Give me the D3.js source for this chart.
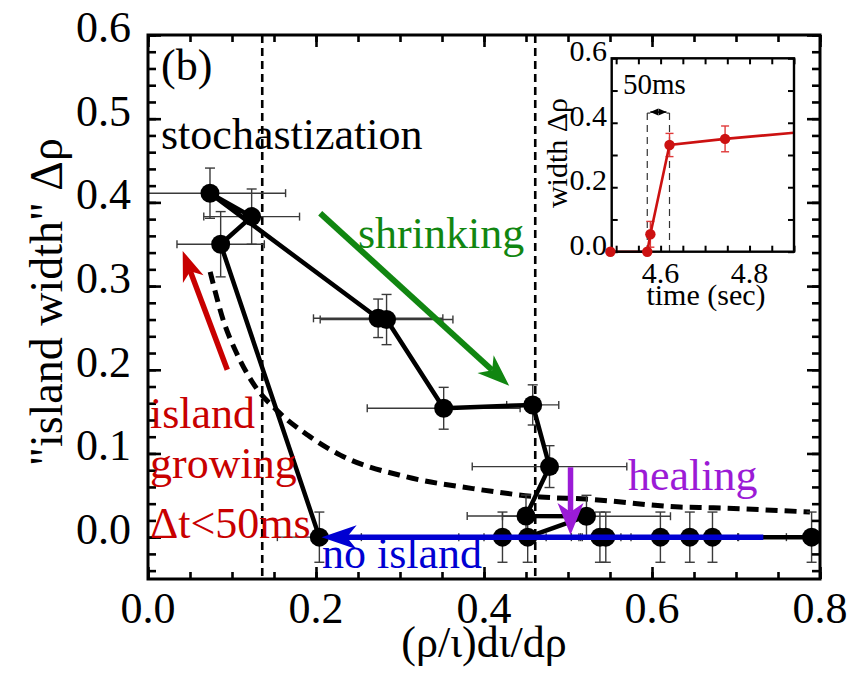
<!DOCTYPE html>
<html>
<head>
<meta charset="utf-8">
<script src="https://cdn.jsdelivr.net/npm/d3@7"></script>
<style>
html,body{margin:0;padding:0;background:#fff;}
svg{display:block;}
</style>
</head>
<body>
<svg id="chart" width="862" height="677" font-family="'Liberation Serif', 'DejaVu Serif', serif"></svg>
<script>
// ---------------- data ----------------
// main series, in path order
const mainX    = [0.204, 0.0865, 0.1234, 0.0738, 0.274, 0.284, 0.352, 0.458, 0.478, 0.450, 0.522, 0.452, 0.422, 0.538, 0.545, 0.610, 0.645, 0.672, 0.790];
const mainY    = [0.000, 0.350, 0.383, 0.411, 0.2615, 0.260, 0.154, 0.158, 0.0843, 0.0253, 0.025, 0.000, 0.000, 0.000, 0.000, 0.000, 0.000, 0.000, 0.000];
const mainXErr = [0.050, 0.052, 0.057, 0.090, 0.077, 0.079, 0.091, 0.031, 0.092, 0.070, 0.100, 0.052, 0.052, 0.025, 0.030, 0.093, 0.030, 0.030, 0.030];
const mainYErr = [0.030, 0.039, 0.033, 0.030, 0.023, 0.030, 0.025, 0.024, 0.025, 0.025, 0.025, 0.030, 0.030, 0.030, 0.030, 0.030, 0.030, 0.030, 0.030];

// dashed threshold curve (read points)
const curveX = [0.074, 0.090, 0.105, 0.125, 0.155, 0.190, 0.229, 0.308, 0.387, 0.467, 0.522, 0.633, 0.673, 0.788];
const curveY = [0.317, 0.258, 0.221, 0.184, 0.150, 0.122, 0.098, 0.072, 0.058, 0.048, 0.0455, 0.036, 0.035, 0.030];

// vertical dashed lines
const vLines = [0.136, 0.461];

// tick labels
const xTickLabels = ["0.0", "0.2", "0.4", "0.6", "0.8"];
const xTickValues = [0.0, 0.2, 0.4, 0.6, 0.8];
const yTickLabels = ["0.0", "0.1", "0.2", "0.3", "0.4", "0.5", "0.6"];
const yTickValues = [0.0, 0.1, 0.2, 0.3, 0.4, 0.5, 0.6];

// inset series
const insetT   = [4.487, 4.570, 4.577, 4.620, 4.745, 4.900];
const insetW   = [0.000, 0.000, 0.054, 0.331, 0.350, 0.369];
const insetErr = [0.000, 0.000, 0.040, 0.036, 0.040, 0.000];
const insetMarks = [true, true, true, true, true, false];
const insetXLabels = ["4.6", "4.8"];
const insetXValues = [4.6, 4.8];
const insetYLabels = ["0.0", "0.2", "0.4", "0.6"];
const insetYValues = [0.0, 0.2, 0.4, 0.6];
const window50 = [4.570, 4.620];   // 50 ms window
const windowTop = 0.43;

// annotation arrows [x1,y1,x2,y2] in data units (tail -> tip)
const arrowRed    = [0.0944, 0.200, 0.0413, 0.342];
const arrowGreen  = [0.205, 0.387, 0.430, 0.181];
const arrowPurple = [0.503, 0.0835, 0.503, 0.0026];
const arrowBlue   = [0.7325, 0.000, 0.2067, 0.000];

// ---------------- drawing ----------------
const svg = d3.select("#chart");
const L = 148, R = 820, T = 35, B = 579;
const x = d3.scaleLinear().domain([0, 0.8]).range([L, R]);
const y = d3.scaleLinear().domain([-0.05, 0.6]).range([B, T]);

svg.append("defs").append("clipPath").attr("id", "mainclip")
  .append("rect").attr("x", L).attr("y", T).attr("width", R - L).attr("height", B - T);

const plot = svg.append("g");
const clipped = plot.append("g").attr("clip-path", "url(#mainclip)");

// vertical dashed lines
clipped.selectAll(".vline").data(vLines).enter().append("line")
  .attr("x1", d => x(d)).attr("x2", d => x(d)).attr("y1", T).attr("y2", B)
  .attr("stroke", "#000").attr("stroke-width", 2.6).attr("stroke-dasharray", "8,5");

// dashed curve
const curvePts = curveX.map((v, i) => [v, curveY[i]]);
clipped.append("path")
  .attr("d", d3.line().x(d => x(d[0])).y(d => y(d[1])).curve(d3.curveMonotoneX)(curvePts))
  .attr("fill", "none").attr("stroke", "#000").attr("stroke-width", 5)
  .attr("stroke-dasharray", "12,7");

// error bars
const pts = mainX.map((v, i) => ({x: v, y: mainY[i], xe: mainXErr[i], ye: mainYErr[i]}));
const eb = clipped.append("g").attr("stroke", "#3a3a3a").attr("stroke-width", 1.4).attr("fill", "none");
pts.forEach(p => {
  const cx = x(p.x), cy = y(p.y);
  const x0 = x(p.x - p.xe), x1 = x(p.x + p.xe);
  const y0 = y(p.y - p.ye), y1 = y(p.y + p.ye);
  eb.append("line").attr("x1", x0).attr("x2", x1).attr("y1", cy).attr("y2", cy);
  eb.append("line").attr("x1", x0).attr("x2", x0).attr("y1", cy - 4).attr("y2", cy + 4);
  eb.append("line").attr("x1", x1).attr("x2", x1).attr("y1", cy - 4).attr("y2", cy + 4);
  eb.append("line").attr("x1", cx).attr("x2", cx).attr("y1", y0).attr("y2", y1);
  eb.append("line").attr("x1", cx - 5).attr("x2", cx + 5).attr("y1", y0).attr("y2", y0);
  eb.append("line").attr("x1", cx - 5).attr("x2", cx + 5).attr("y1", y1).attr("y2", y1);
});

// connecting line
clipped.append("path")
  .attr("d", d3.line().x(d => x(d.x)).y(d => y(d.y))(pts))
  .attr("fill", "none").attr("stroke", "#000").attr("stroke-width", 4.5).attr("stroke-linejoin", "round");

// markers
clipped.selectAll(".pt").data(pts).enter().append("circle")
  .attr("cx", d => x(d.x)).attr("cy", d => y(d.y)).attr("r", 9.5).attr("fill", "#000");

// arrows
function arrow(g, a, sx, sy, color, w, len, half) {
  const x1 = sx(a[0]), y1 = sy(a[1]), x2 = sx(a[2]), y2 = sy(a[3]);
  const ang = Math.atan2(y2 - y1, x2 - x1);
  const ux = Math.cos(ang), uy = Math.sin(ang), nx = -uy, ny = ux;
  const bx = x2 - ux * len, by = y2 - uy * len;
  const kx = x2 - ux * len * 0.72, ky = y2 - uy * len * 0.72;
  g.append("line").attr("x1", x1).attr("y1", y1).attr("x2", kx).attr("y2", ky)
    .attr("stroke", color).attr("stroke-width", w);
  g.append("path")
    .attr("d", `M${x2},${y2}L${bx + nx * half},${by + ny * half}L${kx},${ky}L${bx - nx * half},${by - ny * half}Z`)
    .attr("fill", color);
}
const RED = "#c80000", GREEN = "#118611", PURPLE = "#9b1bd6", BLUE = "#0000d2";
arrow(plot, arrowRed, x, y, RED, 5.5, 30, 11);
arrow(plot, arrowGreen, x, y, GREEN, 6, 32, 12);
arrow(plot, arrowPurple, x, y, PURPLE, 5.5, 32, 13);
arrow(plot, arrowBlue, x, y, BLUE, 5.5, 35, 12);

// frame & ticks
function ticks(axisFn, scale, vals, size, transform) {
  const g = plot.append("g").attr("transform", transform)
    .call(axisFn(scale).tickValues(vals).tickSize(size).tickFormat(""));
  g.select(".domain").remove();
  g.attr("font-family", null);
  g.selectAll(".tick line").attr("stroke", "#000").attr("stroke-width", 2.6);
}
const xMinor = d3.range(0, 0.8001, 0.05).map(v => +v.toFixed(2));
const yMinor = d3.range(-0.04, 0.6001, 0.02).map(v => +v.toFixed(2));
ticks(d3.axisBottom, x, xMinor, -7, `translate(0,${B})`);
ticks(d3.axisBottom, x, xTickValues, -12, `translate(0,${B})`);
ticks(d3.axisTop, x, xMinor, -7, `translate(0,${T})`);
ticks(d3.axisTop, x, xTickValues, -12, `translate(0,${T})`);
ticks(d3.axisLeft, y, yMinor, -8, `translate(${L},0)`);
ticks(d3.axisLeft, y, yTickValues, -13, `translate(${L},0)`);
ticks(d3.axisRight, y, yMinor, -8, `translate(${R},0)`);
ticks(d3.axisRight, y, yTickValues, -13, `translate(${R},0)`);
plot.append("rect").attr("x", L).attr("y", T).attr("width", R - L).attr("height", B - T)
  .attr("fill", "none").attr("stroke", "#000").attr("stroke-width", 3);

// tick labels
plot.selectAll(".xl").data(xTickValues).enter().append("text")
  .attr("x", d => x(d)).attr("y", 623).attr("text-anchor", "middle")
  .attr("font-size", 44).text((d, i) => xTickLabels[i]);
plot.selectAll(".yl").data(yTickValues).enter().append("text")
  .attr("x", 131).attr("y", d => y(d) + 7).attr("text-anchor", "end")
  .attr("font-size", 44).text((d, i) => yTickLabels[i]);

// axis titles
plot.append("text").attr("x", 484).attr("y", 657).attr("text-anchor", "middle")
  .attr("font-size", 44).text("(ρ/ι)dι/dρ");
plot.append("text").attr("transform", "translate(62,302) rotate(-90)").attr("text-anchor", "middle")
  .attr("font-size", 46).text("\"island width\" Δρ");

// annotations
function label(txt, px, py, color, size) {
  plot.append("text").attr("x", px).attr("y", py).attr("fill", color)
    .attr("font-size", size || 44).text(txt);
}
label("(b)", 161, 80, "#000");
label("stochastization", 161, 149, "#000");
label("shrinking", 358, 248, GREEN);
label("island", 150, 428, RED);
label("growing", 150, 478, RED);
label("Δt<50ms", 150, 538, RED);
label("no island", 322, 568, BLUE);
label("healing", 628, 490, PURPLE);

// ---------------- inset ----------------
const IL = 611.7, IR = 794, IT = 58.3, IB = 251.7;
const ix = d3.scaleLinear().domain([4.49, 4.90]).range([IL, IR]);
const iy = d3.scaleLinear().domain([0, 0.6]).range([IB, IT]);
const inset = svg.append("g");
inset.append("rect").attr("x", IL).attr("y", IT).attr("width", IR - IL).attr("height", IB - IT).attr("fill", "#fff");

// 50 ms window
const wg = inset.append("g").attr("stroke", "#333").attr("stroke-width", 1.2);
window50.forEach((t, i) => {
  wg.append("line").attr("x1", ix(t)).attr("x2", ix(t)).attr("y1", iy(windowTop)).attr("y2", IB)
    .attr("stroke-dasharray", "7,5");
  const dx = i === 0 ? 3 : -3;
  wg.append("line").attr("x1", ix(t)).attr("x2", ix(t) + dx).attr("y1", iy(windowTop)).attr("y2", iy(windowTop));
});
{
  const xa = ix(window50[0]) + 3, xb = ix(window50[1]) - 3, yy = iy(windowTop) - 1;
  inset.append("line").attr("x1", xa).attr("x2", xb).attr("y1", yy).attr("y2", yy).attr("stroke", "#000").attr("stroke-width", 1.5);
  inset.append("path").attr("d", `M${xa},${yy}L${xa + 8},${yy - 3.5}L${xa + 8},${yy + 3.5}Z`).attr("fill", "#000");
  inset.append("path").attr("d", `M${xb},${yy}L${xb - 8},${yy - 3.5}L${xb - 8},${yy + 3.5}Z`).attr("fill", "#000");
}

// inset error bars
const ipts = insetT.map((t, i) => ({t, w: insetW[i], e: insetErr[i], m: insetMarks[i]}));
const ieb = inset.append("g").attr("stroke", "#e03a3a").attr("stroke-width", 1.4);
ipts.filter(p => p.e > 0).forEach(p => {
  const cx = ix(p.t);
  ieb.append("line").attr("x1", cx).attr("x2", cx).attr("y1", iy(p.w - p.e)).attr("y2", iy(p.w + p.e));
  ieb.append("line").attr("x1", cx - 4).attr("x2", cx + 4).attr("y1", iy(p.w - p.e)).attr("y2", iy(p.w - p.e));
  ieb.append("line").attr("x1", cx - 4).attr("x2", cx + 4).attr("y1", iy(p.w + p.e)).attr("y2", iy(p.w + p.e));
});
inset.append("path")
  .attr("d", d3.line().x(d => ix(d.t)).y(d => iy(d.w))(ipts))
  .attr("fill", "none").attr("stroke", "#cc1111").attr("stroke-width", 2.6);

// inset ticks & frame
function iticks(axisFn, scale, vals, size, transform) {
  const g = inset.append("g").attr("transform", transform)
    .call(axisFn(scale).tickValues(vals).tickSize(size).tickFormat(""));
  g.select(".domain").remove();
  g.selectAll(".tick line").attr("stroke", "#000").attr("stroke-width", 2);
}
const ixMinor = d3.range(4.5, 4.9001, 0.05).map(v => +v.toFixed(2));
const iyMinor = d3.range(0, 0.6001, 0.1).map(v => +v.toFixed(1));
iticks(d3.axisBottom, ix, ixMinor, -6, `translate(0,${IB})`);
iticks(d3.axisTop, ix, ixMinor, -6, `translate(0,${IT})`);
iticks(d3.axisLeft, iy, iyMinor, -6, `translate(${IL},0)`);
iticks(d3.axisRight, iy, iyMinor, -6, `translate(${IR},0)`);
inset.append("rect").attr("x", IL).attr("y", IT).attr("width", IR - IL).attr("height", IB - IT)
  .attr("fill", "none").attr("stroke", "#000").attr("stroke-width", 2.4);

// inset markers (drawn above frame)
inset.selectAll(".ipt").data(ipts.filter(p => p.m)).enter().append("circle")
  .attr("cx", d => ix(d.t)).attr("cy", d => iy(d.w)).attr("r", 5.2).attr("fill", "#cc1111");

// inset labels
inset.selectAll(".ixl").data(insetXValues).enter().append("text")
  .attr("x", d => ix(d)).attr("y", 283).attr("text-anchor", "middle")
  .attr("font-size", 30).text((d, i) => insetXLabels[i]);
inset.selectAll(".iyl").data(insetYValues).enter().append("text")
  .attr("x", 607).attr("y", d => iy(d) + 3).attr("text-anchor", "end")
  .attr("font-size", 30).text((d, i) => insetYLabels[i]);
inset.append("text").attr("x", 706).attr("y", 305).attr("text-anchor", "middle")
  .attr("font-size", 30).text("time (sec)");
inset.append("text").attr("transform", "translate(567,153) rotate(-90)").attr("text-anchor", "middle")
  .attr("font-size", 30).text("width Δρ");
inset.append("text").attr("x", 623).attr("y", 94).attr("font-size", 29).text("50ms");
</script>
</body>
</html>
